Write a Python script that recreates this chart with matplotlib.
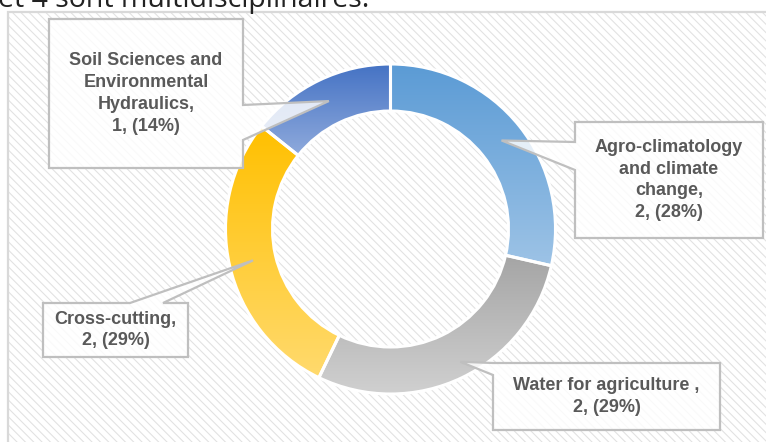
import matplotlib.pyplot as plt
import numpy as np
from matplotlib.patches import Rectangle, Polygon
from matplotlib.colors import to_rgb

W, H = 766, 442

# data
categories = ["Agro-climatology\nand climate\nchange,",
              "Water for agriculture ,",
              "Cross-cutting,",
              "Soil Sciences and\nEnvironmental\nHydraulics,"]
counts = [2, 2, 2, 1]
pct_labels = ["28%", "29%", "29%", "14%"]
top_colors = ["#5B9BD5", "#A5A5A5", "#FFC000", "#4472C4"]
bottom_colors = ["#9DC3E6", "#D0D0D0", "#FFDA6E", "#8FAADC"]

# layout (pixels, y measured from the top)
cx, cy, R, ring = 390.5, 229, 165, 47
boxes = [(575, 122, 763, 238, 'left', (142, 170)),
         (493, 363, 720, 430, 'left', (363, 375)),
         (43, 303, 188, 357, 'top', (130, 163)),
         (49, 19, 243, 168, 'right', (105, 140))]
tip_r = [142, 150, 141, 142]
tip_shift = [0, 2, 0, 0]

plt.rcParams['hatch.color'] = '#E2E2E2'
plt.rcParams['hatch.linewidth'] = 0.8

fig = plt.figure(figsize=(W / 100, H / 100), dpi=100)
ax = fig.add_axes([0, 0, 1, 1])

def Y(y):
    return H - y

# hatched chart area + frame
ax.add_patch(Rectangle((8, -20), W + 20, Y(12) + 20, facecolor='white',
                       edgecolor='#E2E2E2', lw=0, hatch='\\\\\\\\', zorder=0))
ax.add_patch(Rectangle((8, -20), W + 20, Y(12) + 20, fill=False,
                       edgecolor='#D9D9D9', lw=1.6, zorder=1))

# text from the page above, cut off by the crop
ax.text(-2, Y(7), "et 4 sont multidisciplinaires.", fontsize=20.5,
        family='Open Sans', color='#222222', ha='left', va='baseline', zorder=1)

wedges, _ = ax.pie(counts, startangle=90, counterclock=False, radius=R,
                   center=(cx, Y(cy)),
                   wedgeprops=dict(width=ring, edgecolor='white', lw=2.2))

grad = np.linspace(0, 1, 256)[:, None, None]
for w, c0, c1 in zip(wedges, top_colors, bottom_colors):
    w.set_facecolor('none')
    w.set_zorder(3)
    ext = w.get_path().get_extents()
    img = (1 - grad) * np.array(to_rgb(c0)) + grad * np.array(to_rgb(c1))
    im = ax.imshow(img, extent=(ext.x0, ext.x1, ext.y0, ext.y1), origin='upper',
                   interpolation='bilinear', aspect='auto', zorder=2)
    im.set_clip_path(w)

# callout labels
for i, w in enumerate(wedges):
    x0, y0, x1, y1, side, (a, b) = boxes[i]
    ang = np.deg2rad((w.theta1 + w.theta2) / 2 + tip_shift[i])
    tip = (cx + tip_r[i] * np.cos(ang), Y(cy) + tip_r[i] * np.sin(ang))
    pts = [(x0, Y(y0))]
    if side == 'top':
        pts += [(a, Y(y0)), tip, (b, Y(y0))]
    pts += [(x1, Y(y0))]
    if side == 'right':
        pts += [(x1, Y(a)), tip, (x1, Y(b))]
    pts += [(x1, Y(y1)), (x0, Y(y1))]
    if side == 'left':
        pts += [(x0, Y(b)), tip, (x0, Y(a))]
    ax.add_patch(Polygon(pts, closed=True, facecolor=(1, 1, 1, 0.82),
                         edgecolor='#BFBFBF', lw=1.6, zorder=4))
    ax.text((x0 + x1) / 2, Y((y0 + y1) / 2),
            f"{categories[i]}\n{counts[i]}, ({pct_labels[i]})",
            ha='center', va='center', multialignment='center',
            fontsize=13, fontweight='bold', family='Liberation Sans',
            color='#595959', linespacing=1.38, zorder=5)

ax.set_xlim(0, W)
ax.set_ylim(0, H)
ax.set_aspect('auto')
ax.axis('off')

fig.savefig('out.png', dpi=100)
